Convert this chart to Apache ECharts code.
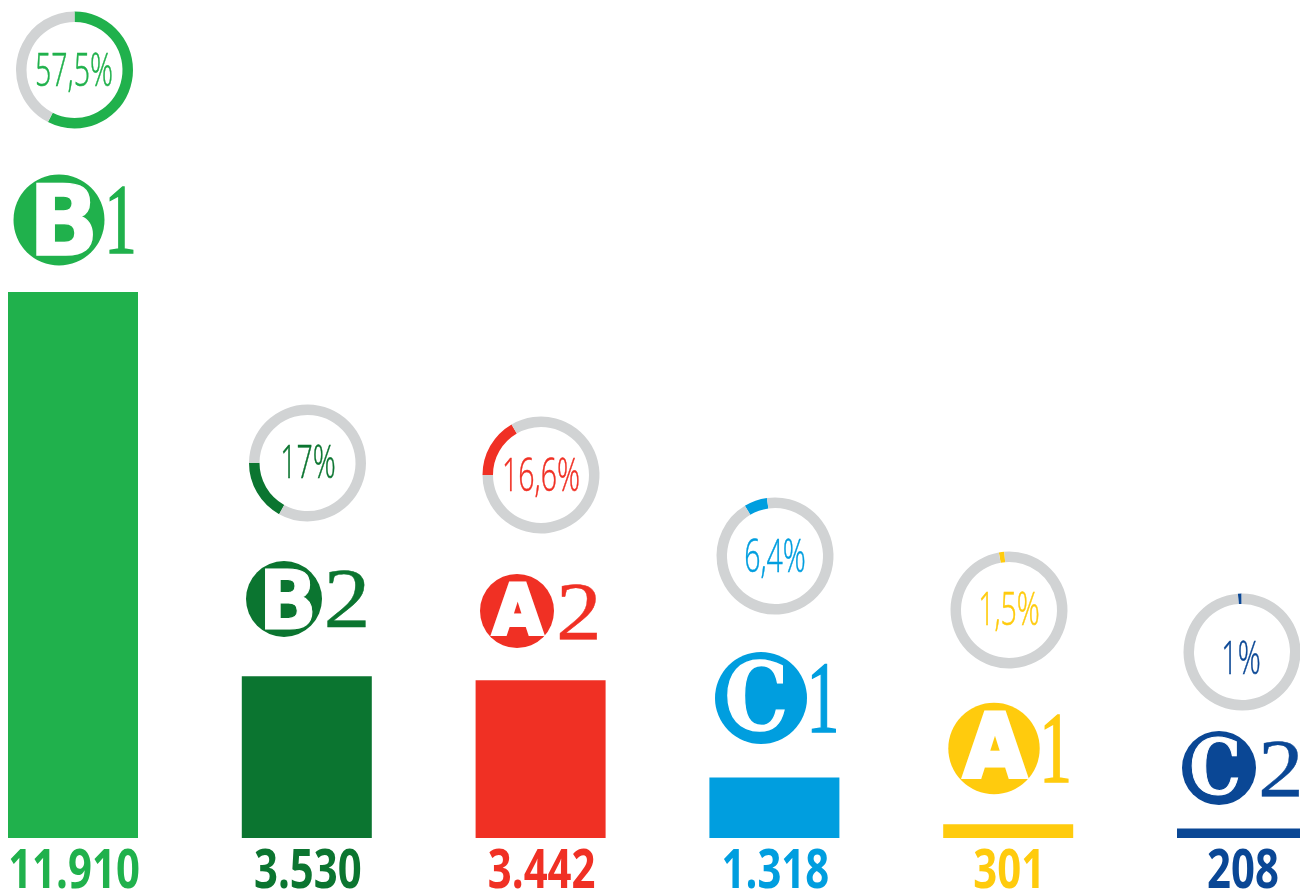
<!DOCTYPE html>
<html>
<head>
<meta charset="utf-8">
<style>
  html, body { margin: 0; padding: 0; background: #fff; }
  #chart { width: 1300px; height: 895px; }
</style>
<script src="https://cdn.jsdelivr.net/npm/echarts@6/dist/echarts.min.js"></script>
</head>
<body>
<div id="chart"></div>
<script>
// data
var letters = ["B", "B", "A", "C", "A", "C"];
var digits = ["1", "2", "2", "1", "1", "2"];
var votes = [11910, 3530, 3442, 1318, 301, 208];
var voteLabels = ["11.910", "3.530", "3.442", "1.318", "301", "208"];
var shares = [57.5, 17, 16.6, 6.4, 1.5, 1];
var shareLabels = ["57,5%", "17%", "16,6%", "6,4%", "1,5%", "1%"];
var colors = ["#20b14c", "#0b7530", "#f03024", "#009edf", "#ffcb0d", "#0a4795"];

// layout, in page pixels
var RING_GREY = "#d1d3d4";
var GRID_LEFT = 73, GRID_WIDTH = 1169;
var ringCenters = [[74.5, 70], [307.5, 463], [541, 475], [775, 556], [1009, 610], [1242, 652]];
var ringStart = [90, 241, 180, 121, 100, 94];
var shareText = [[74, 73], [308, 465], [541, 478], [775, 559], [1009, 612], [1241, 661]];
var badges = [[59, 220, 45.5], [284, 599, 38], [517, 611, 37], [761, 698, 46], [994, 748.5, 45.7], [1219, 768, 37]];
// per letter: x shift and y shift (in radii), horizontal squeeze, font size (in radii), font
var letterStyle = {
  B: { dx: 0.1, dy: 0.22, sx: 0.94, size: 2.15, font: "'DejaVu Sans'", stroke: 0.03 },
  A: { dx: 0.02, dy: 0.13, sx: 0.92, size: 1.9, font: "'DejaVu Sans'", stroke: 0.11 },
  C: { dx: -0.1, dy: 0.16, sx: 0.85, size: 2.05, font: "'DejaVu Serif'", stroke: 0.03 }
};

function ringSeries(i) {
  return {
    type: "pie",
    silent: true,
    center: ringCenters[i],
    radius: [48, 58.5],
    startAngle: ringStart[i],
    clockwise: true,
    label: { show: false },
    labelLine: { show: false },
    data: [
      { value: shares[i], itemStyle: { color: colors[i] } },
      { value: 100 - shares[i], itemStyle: { color: RING_GREY } }
    ]
  };
}

function shareGraphic(i) {
  return {
    type: "text", silent: true,
    x: shareText[i][0], y: shareText[i][1], scaleX: 0.62,
    style: {
      text: shareLabels[i], fill: colors[i], align: "center", verticalAlign: "middle",
      font: "300 46px 'Open Sans', sans-serif",
      stroke: colors[i], lineWidth: 0.5
    }
  };
}

function voteGraphic(i) {
  return {
    type: "text", silent: true,
    x: GRID_LEFT + i * GRID_WIDTH / 5 + 1, y: 873, scaleX: 0.79,
    style: {
      text: voteLabels[i], fill: colors[i], align: "center", verticalAlign: "middle",
      font: "bold 53px 'Open Sans', sans-serif"
    }
  };
}

function badgeGraphics(i) {
  var b = badges[i], r = b[2];
  var ls = letterStyle[letters[i]];
  var isOne = digits[i] === "1";
  return [
    { type: "circle", silent: true, shape: { cx: b[0], cy: b[1], r: r }, style: { fill: colors[i] } },
    {
      type: "text", silent: true,
      x: b[0] + r * ls.dx, y: b[1] + r * ls.dy, scaleX: ls.sx,
      style: {
        text: letters[i], fill: "#fff", align: "center", verticalAlign: "middle",
        font: "bold " + Math.round(r * ls.size) + "px " + ls.font,
        stroke: "#fff", lineWidth: r * ls.stroke
      }
    },
    {
      type: "text", silent: true,
      x: b[0] + r + (isOne ? 16 : 25), y: b[1] + (isOne ? 7 : 6), scaleX: isOne ? 0.65 : 1.1,
      style: {
        text: digits[i], fill: colors[i], align: "center", verticalAlign: "middle",
        font: (isOne ? r * 2.2 : r * 2.25) + "px 'Liberation Serif', serif",
        stroke: colors[i], lineWidth: isOne ? 1.6 : 0.4
      }
    }
  ];
}

var graphics = [];
var series = [{
  type: "bar",
  silent: true,
  clip: false,
  barWidth: 130,
  data: votes.map(function (v, i) { return { value: v, itemStyle: { color: colors[i] } }; })
}];

votes.forEach(function (v, i) {
  series.push(ringSeries(i));
  graphics.push(shareGraphic(i), voteGraphic(i));
  graphics = graphics.concat(badgeGraphics(i));
});

var chart = echarts.init(document.getElementById("chart"), null, { renderer: "canvas" });
chart.setOption({
  animation: false,
  backgroundColor: "#fff",
  grid: { left: GRID_LEFT, width: GRID_WIDTH, top: 292, height: 546 },
  xAxis: {
    type: "category", boundaryGap: false,
    data: letters.map(function (l, i) { return l + digits[i]; }),
    axisLine: { show: false }, axisTick: { show: false }, axisLabel: { show: false }
  },
  yAxis: { type: "value", min: 0, max: 11910, show: false, splitLine: { show: false } },
  series: series,
  graphic: graphics
});
</script>
</body>
</html>
